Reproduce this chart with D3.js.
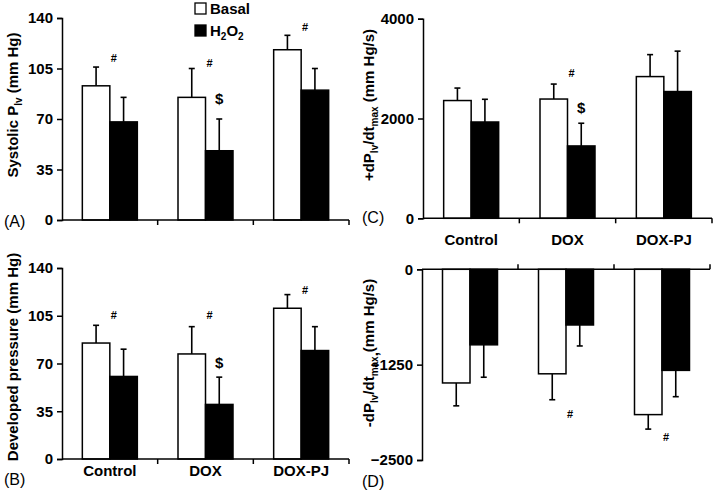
<!DOCTYPE html>
<html><head><meta charset="utf-8">
<script src="https://cdn.jsdelivr.net/npm/d3@7"></script>
<style>
body{margin:0;background:#fff;}
svg{display:block;font-family:"Liberation Sans",Arial,Helvetica,sans-serif;}
.tick text{font-weight:bold;}
</style></head>
<body><svg id="chart" width="717" height="494"></svg>
<script>
const categories = ["Control","DOX","DOX-PJ"];
const seriesNames = ["Basal","H2O2"];

// (A) Systolic Plv (mm Hg)
const sysBasal = [93, 85, 118];
const sysBasalErr = [13, 20, 10];
const sysH2O2 = [68, 48, 90];
const sysH2O2Err = [17, 22, 15];
const sysTicks = [0, 35, 70, 105, 140];
const sysMarks = [["Control","#",112],["DOX","#",109],["DOX-PJ","#",134],["DOX","$",84]];

// (B) Developed pressure (mm Hg)
const devBasal = [85, 77, 110.5];
const devBasalErr = [13, 20, 10];
const devH2O2 = [60.5, 40, 79.5];
const devH2O2Err = [20, 20, 17.5];
const devTicks = [0, 35, 70, 105, 140];
const devMarks = [["Control","#",105.5],["DOX","#",105.5],["DOX-PJ","#",124],["DOX","$",70.5]];

// (C) +dPlv/dtmax (mm Hg/s)
const posBasal = [2360, 2390, 2840];
const posBasalErr = [250, 300, 440];
const posH2O2 = [1930, 1450, 2540];
const posH2O2Err = [455, 455, 810];
const posTicks = [0, 2000, 4000];
const posMarks = [["DOX","#",2906],["DOX","$",2206]];

// (D) -dPlv/dtmax (mm Hg/s)
const negBasal = [-1490, -1370, -1905];
const negBasalErr = [300, 340, 190];
const negH2O2 = [-990, -730, -1325];
const negH2O2Err = [425, 275, 345];
const negTicks = [-2500, -1250, 0];
const negMarks = [["DOX","#",-1897],["DOX-PJ","#",-2198]];

const svg = d3.select("#chart");
const FONT = "\"Liberation Sans\",Arial,Helvetica,sans-serif";

function panel(o){
  const g = svg.append("g");
  const x = d3.scaleBand().domain(categories).range([o.x0, o.x1]);
  const y = d3.scaleLinear().domain(o.domain).range([o.yBottom, o.yTop]);
  const bw = 27.5;
  const xs = d3.scaleBand().domain(seriesNames).range([-bw, bw]);
  const y0 = y(0);
  const series = [
    {name:"Basal", vals:o.basal, errs:o.basalErr, fill:"#fff"},
    {name:"H2O2", vals:o.h2o2, errs:o.h2o2Err, fill:"#000"}
  ];
  series.forEach(s=>{
    categories.forEach((c,i)=>{
      const v = s.vals[i];
      const cx = x(c) + x.bandwidth()/2 + xs(s.name);
      const top = Math.min(y(v), y0), h = Math.abs(y(v)-y0);
      const sign = v >= 0 ? 1 : -1;
      const ev = v + sign*s.errs[i];
      const mx = cx + xs.bandwidth()/2;
      g.append("line").attr("x1",mx).attr("x2",mx).attr("y1",y(v)).attr("y2",y(ev))
        .attr("stroke","#000").attr("stroke-width",1.6);
      g.append("line").attr("x1",mx-3).attr("x2",mx+3).attr("y1",y(ev)).attr("y2",y(ev))
        .attr("stroke","#000").attr("stroke-width",1.6);
      g.append("rect").attr("x",cx).attr("y",top).attr("width",xs.bandwidth()).attr("height",h)
        .attr("fill",s.fill).attr("stroke","#000").attr("stroke-width",1.5);
    });
  });
  // y axis
  const ya = g.append("g").attr("transform",`translate(${o.x0},0)`)
    .call(d3.axisLeft(y).tickValues(o.ticks).tickSize(5).tickPadding(4).tickFormat(d3.format("d")));
  ya.select(".domain").attr("stroke-width",1.5);
  ya.selectAll(".tick line").attr("stroke-width",1.5);
  ya.selectAll(".tick text").attr("font-size",15).attr("font-family",FONT).attr("font-weight","bold").attr("fill","#000");
  // x axis (baseline)
  const xa = g.append("g").attr("transform",`translate(0,${y0})`);
  xa.append("line").attr("x1",o.x0).attr("x2",o.x1).attr("stroke","#000").attr("stroke-width",1.5);
  categories.forEach(c=>{
    const tx = x(c)+x.bandwidth();
    xa.append("line").attr("x1",tx).attr("x2",tx).attr("y1",0).attr("y2",o.tickDir*5)
      .attr("stroke","#000").attr("stroke-width",1.5);
  });
  if(o.catLabelY){
    categories.forEach(c=>{
      g.append("text").attr("x",x(c)+x.bandwidth()/2).attr("y",o.catLabelY)
        .attr("text-anchor","middle").attr("font-size",15).attr("font-weight","bold").text(c);
    });
  }
  // significance marks
  o.marks.forEach(([c,t,v])=>{
    const cx = x(c)+x.bandwidth()/2;
    const tx = t==="$" ? cx + bw/2 : cx + 4;
    g.append("text").attr("x",tx).attr("y",y(v)).attr("dy","0.35em")
      .attr("text-anchor","middle").attr("fill","#000")
      .attr("font-size",t==="$"?15:11).attr("font-weight","bold").text(t);
  });
  // panel label
  g.append("text").attr("x",o.labX).attr("y",o.labY).attr("font-size",16).text(o.letter);
  // y title
  const tt = g.append("text").attr("transform",`translate(${o.titleX},${o.titleY}) rotate(-90)`)
    .attr("text-anchor","middle").attr("font-size",15).attr("font-weight","bold");
  o.title.forEach(([s,sub])=>{
    const ts = tt.append("tspan").text(s);
    if(sub===1) ts.attr("font-size",10).attr("dy",4);
    else if(sub===2) ts.attr("dy",-4);
  });
  return g;
}

panel({x0:62,x1:349,yTop:18,yBottom:220,domain:[0,140],ticks:sysTicks,
  basal:sysBasal,basalErr:sysBasalErr,h2o2:sysH2O2,h2o2Err:sysH2O2Err,marks:sysMarks,
  tickDir:1,letter:"(A)",labX:4,labY:227,titleX:18,titleY:105,
  title:[["Systolic P",0],["lv",1],[" (mm Hg)",2]]});
panel({x0:62,x1:349,yTop:268,yBottom:459,domain:[0,140],ticks:devTicks,
  basal:devBasal,basalErr:devBasalErr,h2o2:devH2O2,h2o2Err:devH2O2Err,marks:devMarks,
  tickDir:1,catLabelY:476,letter:"(B)",labX:4,labY:485,titleX:18,titleY:357,
  title:[["Developed pressure (mm Hg)",0]]});
panel({x0:423,x1:712,yTop:18.7,yBottom:218.3,domain:[0,4000],ticks:posTicks,
  basal:posBasal,basalErr:posBasalErr,h2o2:posH2O2,h2o2Err:posH2O2Err,marks:posMarks,
  tickDir:1,catLabelY:245,letter:"(C)",labX:362,labY:223,titleX:374,titleY:105,
  title:[["+dP",0],["lv",1],["/dt",2],["max",1],[" (mm Hg/s)",2]]});
panel({x0:422,x1:710,yTop:460,yBottom:269.3,domain:[0,-2500],ticks:negTicks,
  basal:negBasal,basalErr:negBasalErr,h2o2:negH2O2,h2o2Err:negH2O2Err,marks:negMarks,
  tickDir:-1,letter:"(D)",labX:362,labY:487,titleX:374,titleY:353,
  title:[["-dP",0],["lv",1],["/dt",2],["max",1],[",",0],["(mm Hg/s)",2]]});

// legend
const leg = svg.append("g");
seriesNames.forEach((s,i)=>{
  const ly = 8 + i*22;
  leg.append("rect").attr("x",195).attr("y",ly-5).attr("width",11).attr("height",11)
    .attr("fill",i?"#000":"#fff").attr("stroke","#000").attr("stroke-width",1.3);
  const t = leg.append("text").attr("x",210).attr("y",ly+6).attr("font-size",15).attr("font-weight","bold");
  if(s==="H2O2"){
    t.append("tspan").text("H");
    t.append("tspan").text("2").attr("font-size",10).attr("dy",4);
    t.append("tspan").text("O").attr("dy",-4);
    t.append("tspan").text("2").attr("font-size",10).attr("dy",4);
  } else t.text(s);
});
</script></body></html>
